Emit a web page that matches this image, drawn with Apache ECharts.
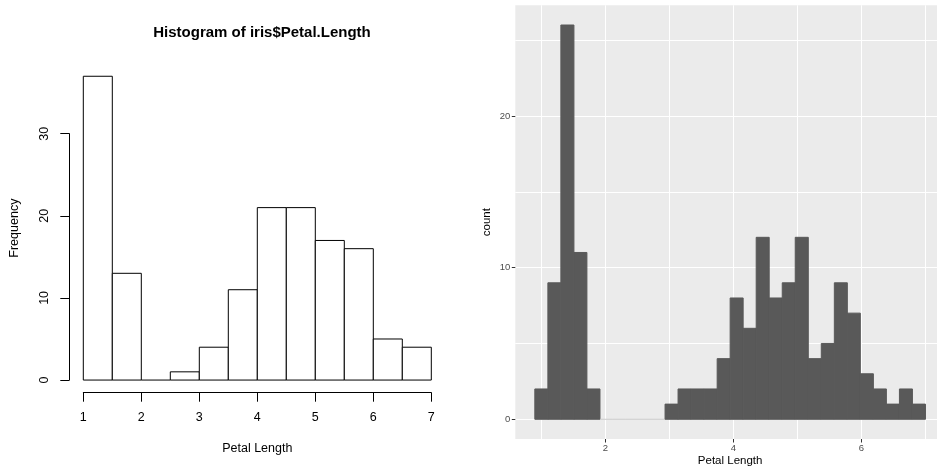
<!DOCTYPE html>
<html>
<head>
<meta charset="utf-8">
<script src="https://cdn.jsdelivr.net/npm/echarts@6/dist/echarts.min.js"></script>
<style>
  html, body { margin: 0; padding: 0; background: #ffffff; }
  #chart { width: 937px; height: 469px; }
</style>
</head>
<body>
<div id="chart"></div>
<script>
// Base-graphics style histogram: breaks every 0.5 cm
const baseBreaks = [1, 1.5, 2, 2.5, 3, 3.5, 4, 4.5, 5, 5.5, 6, 6.5, 7];
const baseCounts = [37, 13, 0, 1, 4, 11, 21, 21, 17, 16, 5, 4];
const baseXTicks = [1, 2, 3, 4, 5, 6, 7];
const baseYTicks = [0, 10, 20, 30];

// ggplot-style histogram: 30 bins
const ggBreaks = [0.898, 1.102, 1.305, 1.509, 1.712, 1.916, 2.119, 2.322, 2.526, 2.729,
                  2.933, 3.136, 3.340, 3.543, 3.747, 3.950, 4.153, 4.357, 4.560, 4.764,
                  4.967, 5.171, 5.374, 5.578, 5.781, 5.984, 6.188, 6.391, 6.595, 6.798, 7.002];
const ggCounts = [2, 9, 26, 11, 2, 0, 0, 0, 0, 0, 1, 2, 2, 2, 4,
                  8, 6, 12, 8, 9, 12, 4, 5, 9, 7, 3, 2, 1, 2, 1];
const ggXTicks = [2, 4, 6];
const ggYTicks = [0, 10, 20];
const ggXGridLines = [1, 2, 3, 4, 5, 6, 7];
const ggYGridLines = [0, 5, 10, 15, 20, 25];

const FONT = '"Liberation Sans", Arial, Helvetica, sans-serif';

function binData(breaks, counts) {
  return counts.map((c, i) => [breaks[i], breaks[i + 1], c]);
}

// One rectangle per bin, placed through the axis scales
function histRenderer(fill, stroke, lineWidth, emptyStroke) {
  return function (params, api) {
    const lo = api.coord([api.value(0), 0]);
    const hi = api.coord([api.value(1), api.value(2)]);
    const count = api.value(2);
    if (count === 0) {
      return {
        type: 'line',
        shape: { x1: lo[0], y1: lo[1], x2: hi[0], y2: lo[1] },
        style: { stroke: emptyStroke, lineWidth: 1 }
      };
    }
    return {
      type: 'rect',
      shape: { x: lo[0], y: hi[1], width: hi[0] - lo[0], height: lo[1] - hi[1] },
      style: { fill: fill, stroke: stroke, lineWidth: lineWidth }
    };
  };
}

// Hidden axis that only contributes white panel grid lines
function gridLineAxis(gridIndex, min, max, values) {
  return {
    gridIndex: gridIndex, type: 'value', min: min, max: max,
    axisLine: { show: false, onZero: false },
    axisTick: { show: false, customValues: values },
    axisLabel: { show: false, customValues: values },
    splitLine: { show: true, lineStyle: { color: '#ffffff', width: 1 } }
  };
}

const chart = echarts.init(document.getElementById('chart'), null, { renderer: 'canvas' });

const option = {
  animation: false,
  backgroundColor: '#ffffff',
  textStyle: { fontFamily: FONT },
  title: {
    text: 'Histogram of iris$Petal.Length',
    left: 257,
    top: 20,
    textAlign: 'center',
    textStyle: { fontFamily: FONT, fontSize: 15, fontWeight: 'bold', color: '#000000' }
  },
  grid: [
    // left plot region (bars)
    { left: 83.3, width: 348, top: 64.1, height: 328.1, outerBoundsMode: 'none' },
    // left y axis, spanning only 0..30
    { left: 69.3, width: 10, top: 133.7, height: 246.3, outerBoundsMode: 'none' },
    // right panel
    { left: 515.3, width: 429.7, top: 5.3, height: 433.7, outerBoundsMode: 'none',
      show: true, backgroundColor: '#EBEBEB', borderWidth: 0 }
  ],
  xAxis: [
    {
      gridIndex: 0, type: 'value', min: 1, max: 7, interval: 1,
      position: 'bottom', offset: 0.5,
      name: 'Petal Length', nameLocation: 'middle', nameGap: 49, nameMoveOverlap: false,
      nameTextStyle: { fontFamily: FONT, fontSize: 12.5, color: '#000000' },
      axisLine: { show: true, onZero: false, lineStyle: { color: '#000000', width: 1 } },
      axisTick: { show: true, length: 9, lineStyle: { color: '#000000', width: 1 } },
      axisLabel: { show: true, margin: 18, fontFamily: FONT, fontSize: 12.5, color: '#000000',
                   formatter: v => (baseXTicks.includes(v) ? String(v) : '') },
      splitLine: { show: false }
    },
    {
      gridIndex: 1, type: 'value', min: 0, max: 1, show: false
    },
    {
      gridIndex: 2, type: 'value', min: 0.593, max: 7.307,
      name: 'Petal Length', nameLocation: 'middle', nameGap: 16, nameMoveOverlap: false,
      nameTextStyle: { fontFamily: FONT, fontSize: 11.5, color: '#000000' },
      axisLine: { show: false, onZero: false },
      axisTick: { show: true, length: 3.5, lineStyle: { color: '#333333', width: 1 },
                  customValues: ggXTicks },
      axisLabel: { show: true, margin: 4, fontFamily: FONT, fontSize: 9.5, color: '#4D4D4D',
                   customValues: ggXTicks },
      splitLine: { show: false }
    },
    gridLineAxis(2, 0.593, 7.307, ggXGridLines)
  ],
  yAxis: [
    {
      gridIndex: 0, type: 'value', min: -1.48, max: 38.48,
      name: 'Frequency', nameLocation: 'middle', nameRotate: 90, nameGap: 62, nameMoveOverlap: false,
      nameTextStyle: { fontFamily: FONT, fontSize: 12.5, color: '#000000' },
      axisLine: { show: false }, axisTick: { show: false }, axisLabel: { show: false },
      splitLine: { show: false }
    },
    {
      gridIndex: 1, type: 'value', min: 0, max: 30, interval: 10,
      position: 'left',
      axisLine: { show: true, onZero: false, lineStyle: { color: '#000000', width: 1 } },
      axisTick: { show: true, length: 9, lineStyle: { color: '#000000', width: 1 } },
      axisLabel: { show: true, rotate: 90, margin: 18, fontFamily: FONT, fontSize: 12.5, color: '#000000',
                   formatter: v => (baseYTicks.includes(v) ? String(v) : '') },
      splitLine: { show: false }
    },
    {
      gridIndex: 2, type: 'value', min: -1.3, max: 27.3,
      name: 'count', nameLocation: 'middle', nameRotate: 90, nameGap: 22, nameMoveOverlap: false,
      nameTextStyle: { fontFamily: FONT, fontSize: 11.5, color: '#000000' },
      axisLine: { show: false, onZero: false },
      axisTick: { show: true, length: 3.5, lineStyle: { color: '#333333', width: 1 },
                  customValues: ggYTicks },
      axisLabel: { show: true, margin: 5, fontFamily: FONT, fontSize: 9.5, color: '#4D4D4D',
                   customValues: ggYTicks },
      splitLine: { show: false }
    },
    gridLineAxis(2, -1.3, 27.3, ggYGridLines)
  ],
  series: [
    {
      type: 'custom',
      xAxisIndex: 0, yAxisIndex: 0,
      renderItem: histRenderer('#ffffff', '#000000', 1, '#000000'),
      data: binData(baseBreaks, baseCounts),
      encode: { x: [0, 1], y: 2 },
      clip: false
    },
    {
      type: 'custom',
      xAxisIndex: 2, yAxisIndex: 2,
      renderItem: histRenderer('#595959', '#595959', 1, '#c8c8c8'),
      data: binData(ggBreaks, ggCounts),
      encode: { x: [0, 1], y: 2 },
      clip: true
    }
  ]
};

chart.setOption(option);
</script>
</body>
</html>
